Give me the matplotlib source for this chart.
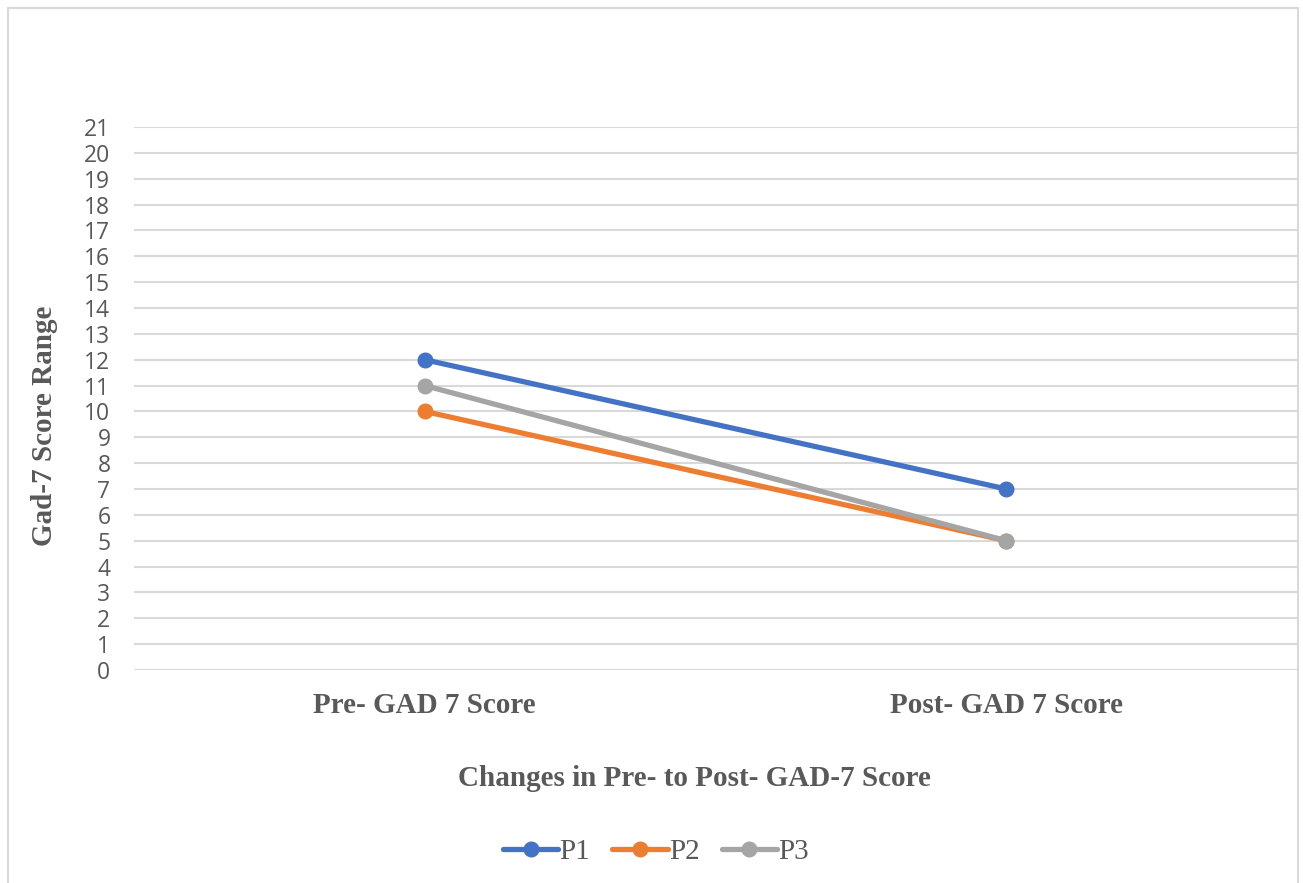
import matplotlib
matplotlib.use("Agg")
import matplotlib.pyplot as plt
from matplotlib.patches import Rectangle

categories = ["Pre- GAD 7 Score", "Post- GAD 7 Score"]
series_names = ["P1", "P2", "P3"]
p1 = [12, 7]
p2 = [10, 5]
p3 = [11, 5]
colors = ["#4472C4", "#ED7D31", "#A5A5A5"]
yticks = list(range(0, 22))

W, H = 1303, 883
fig = plt.figure(figsize=(W / 100, H / 100), dpi=100)
ax = fig.add_axes([134 / W, 1 - 670 / H, (1297 - 134) / W, (670 - 127) / H])

x = list(range(len(categories)))
for vals, name, c in zip([p1, p2, p3], series_names, colors):
    ax.plot(x, vals, color=c, lw=3.8, marker="o", ms=10.5, label=name,
            solid_capstyle="round", zorder=3)

ax.set_xlim(-0.5, 1.5)
ax.set_ylim(0, 21)
ax.set_yticks(yticks)
ax.set_yticklabels([str(v) for v in yticks], fontsize=16.5, color="#595959",
                   family=["Open Sans", "DejaVu Sans"])
ax.set_xticks(x)
ax.set_xticklabels(categories, fontsize=21, fontweight="bold", color="#595959",
                   family="Liberation Serif")
ax.tick_params(axis="both", length=0)
ax.tick_params(axis="y", pad=17)
ax.tick_params(axis="x", pad=16)
ax.grid(axis="y", color="#D9D9D9", lw=1.5, zorder=0)
for s in ax.spines.values():
    s.set_visible(False)

fig.text(694 / W, 1 - 778 / H, "Changes in Pre- to Post- GAD-7 Score", ha="center",
         va="center", fontsize=21, fontweight="bold", color="#595959",
         family="Liberation Serif")
fig.text(45 / W, 1 - 426 / H, "Gad-7 Score Range", ha="center", va="center",
         rotation=90, fontsize=21, fontweight="bold", color="#595959",
         family="Liberation Serif")

leg = fig.legend(loc="center", bbox_to_anchor=(656 / W, 1 - 852 / H), ncol=3,
                 frameon=False, handlelength=1.9, handletextpad=0.05,
                 columnspacing=0.75,
                 prop={"family": "Liberation Serif", "size": 21})
for t in leg.get_texts():
    t.set_color("#595959")

fig.add_artist(Rectangle((8 / W, -0.01), (1298 - 8) / W, 1 - 8 / H + 0.01,
                         transform=fig.transFigure, fill=False,
                         edgecolor="#D9D9D9", lw=1.5))

fig.savefig("out.png", dpi=100)
